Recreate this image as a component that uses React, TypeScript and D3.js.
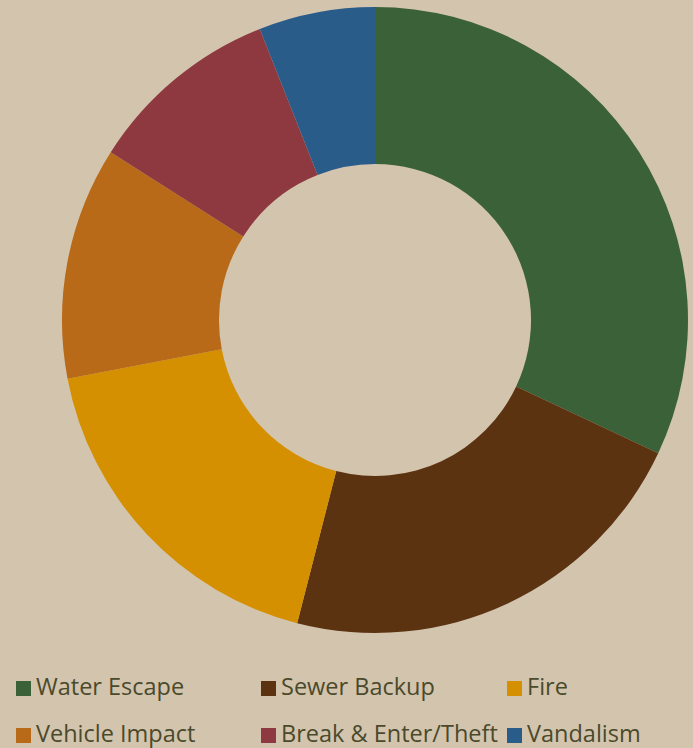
import React from "react";
import * as d3 from "d3";

const categories = ["Water Escape", "Sewer Backup", "Fire", "Vehicle Impact", "Break & Enter/Theft", "Vandalism"];
const values = [32, 22, 18, 12, 10, 6];
const colors = ["#3B6139", "#5C3311", "#D49000", "#B86A19", "#8E393F", "#2A5C8A"];

const W = 693, H = 748;
const cx = 375, cy = 320, R = 313, r = 156;

export default function App() {
  const pie = d3.pie<number>().sort(null).value((d) => d)(values);
  const arc = d3.arc<d3.PieArcDatum<number>>().innerRadius(r).outerRadius(R);
  const colX = [16, 261, 507];
  const rowY = [681, 728];
  return (
    <svg width={W} height={H} style={{ position: "absolute", left: 0, top: 0, background: "#D3C4AE" }}>
      <rect width={W} height={H} fill="#D3C4AE" />
      <g transform={`translate(${cx},${cy})`}>
        {pie.map((p, i) => (
          <path key={i} d={arc(p) || ""} fill={colors[i]} />
        ))}
      </g>
      {categories.map((c, i) => {
        const x = colX[i % 3];
        const y = rowY[Math.floor(i / 3)];
        return (
          <g key={c}>
            <rect x={x} y={y} width={15} height={15} fill={colors[i]} />
            <text x={x + 20} y={y + 14} fontFamily="'Open Sans', sans-serif" fontSize={23.5} fill="#4A4A2B">{c}</text>
          </g>
        );
      })}
    </svg>
  );
}
